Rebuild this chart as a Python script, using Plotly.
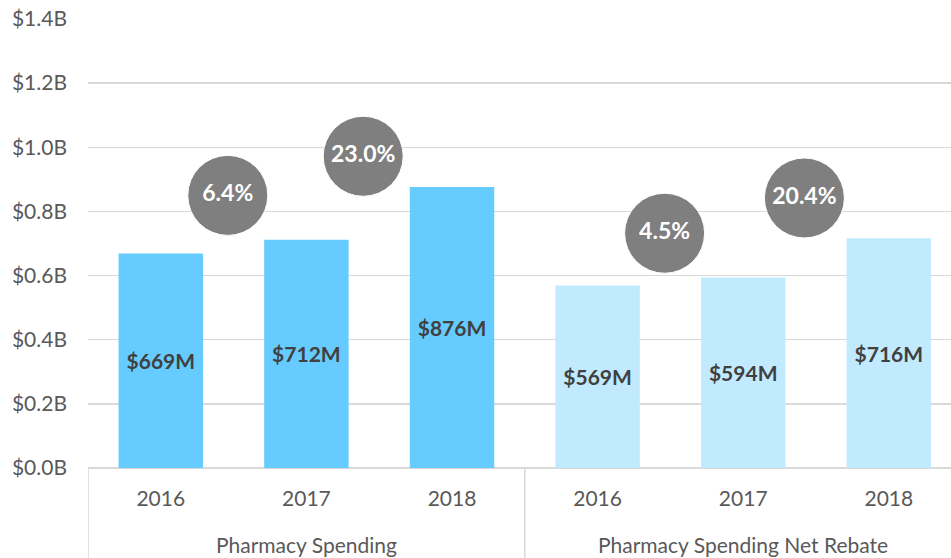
import plotly.graph_objects as go

# ---- data ----
groups = ["Pharmacy Spending", "Pharmacy Spending Net Rebate"]
years = ["2016", "2017", "2018"]
spending = [669, 712, 876]          # $M
net_rebate = [569, 594, 716]        # $M
growth_spending = ["6.4%", "23.0%"]
growth_net = ["4.5%", "20.4%"]
y_tick_vals = [0, 200, 400, 600, 800, 1000, 1200, 1400]
y_tick_text = ["$0.0B", "$0.2B", "$0.4B", "$0.6B", "$0.8B", "$1.0B", "$1.2B", "$1.4B"]

# callout placement offsets (layout, relative to bars)
callout_dx = [0.46, 0.39, 0.46, 0.42]
callout_dy = [138, 96, 138, 126]

FONT = "Lato, 'Gill Sans', 'Open Sans', sans-serif"
GREY_TXT = "#595959"

n = len(years)
x1 = list(range(n))
x2 = [n + i for i in range(n)]

fig = go.Figure()
for xs, vals, col in [(x1, spending, "#66CCFF"), (x2, net_rebate, "#C2EAFF")]:
    fig.add_trace(go.Bar(
        x=xs, y=vals, width=0.58, marker_color=col, marker_line_width=0,
        text=[f"${v}M" for v in vals], textposition="inside",
        insidetextanchor="middle", textangle=0,
        textfont=dict(family=FONT, size=21, color="#404040", weight="bold"),
        hoverinfo="skip"))

# growth callouts
cx, cy, ct = [], [], []
k = 0
for xs, vals, labels in [(x1, spending, growth_spending), (x2, net_rebate, growth_net)]:
    for i, lab in enumerate(labels):
        cx.append(xs[i] + callout_dx[k])
        cy.append(max(vals[i], vals[i + 1]) + callout_dy[k])
        ct.append(lab)
        k += 1
fig.add_trace(go.Scatter(
    x=cx, y=cy, mode="markers+text", text=ct, textposition="middle center",
    marker=dict(size=80, color="#7F7F7F", line=dict(color="white", width=1)),
    textfont=dict(family=FONT, size=23, color="white", weight="bold"),
    hoverinfo="skip", cliponaxis=False))

# group labels and dividers
for gi, g in enumerate(groups):
    fig.add_annotation(x=gi * n + (n - 1) / 2, y=-0.171, xref="x", yref="paper",
                       text=g, showarrow=False, yanchor="middle",
                       font=dict(family=FONT, size=21, color=GREY_TXT))
    fig.add_shape(type="line", xref="x", yref="paper",
                  x0=gi * n - 0.5, x1=gi * n - 0.5, y0=0, y1=-0.21,
                  line=dict(color="#D9D9D9", width=1.5))

fig.update_layout(
    width=951, height=558,
    margin=dict(l=88, r=0, t=19, b=90, autoexpand=False),
    paper_bgcolor="white", plot_bgcolor="white",
    showlegend=False, hovermode=False,
    font=dict(family=FONT, color=GREY_TXT),
)
fig.update_xaxes(
    range=[-0.5, 5.427], tickvals=x1 + x2, ticktext=years + years,
    tickfont=dict(family=FONT, size=21, color=GREY_TXT),
    showgrid=False, zeroline=False, showline=False,
    ticks="", ticklabelstandoff=16,
)
fig.update_yaxes(
    range=[0, 1400], tickvals=y_tick_vals, ticktext=y_tick_text,
    tickfont=dict(family=FONT, size=21, color=GREY_TXT),
    showgrid=True, gridcolor="#D9D9D9", gridwidth=1.5,
    zeroline=True, zerolinecolor="#D9D9D9", zerolinewidth=1.5,
    showline=False, ticks="", ticklabelstandoff=20,
)

fig.write_html(
    "out.html",
    config={"displayModeBar": False, "staticPlot": True},
    post_script="document.body.style.margin='0';document.body.style.overflow='hidden';",
)
